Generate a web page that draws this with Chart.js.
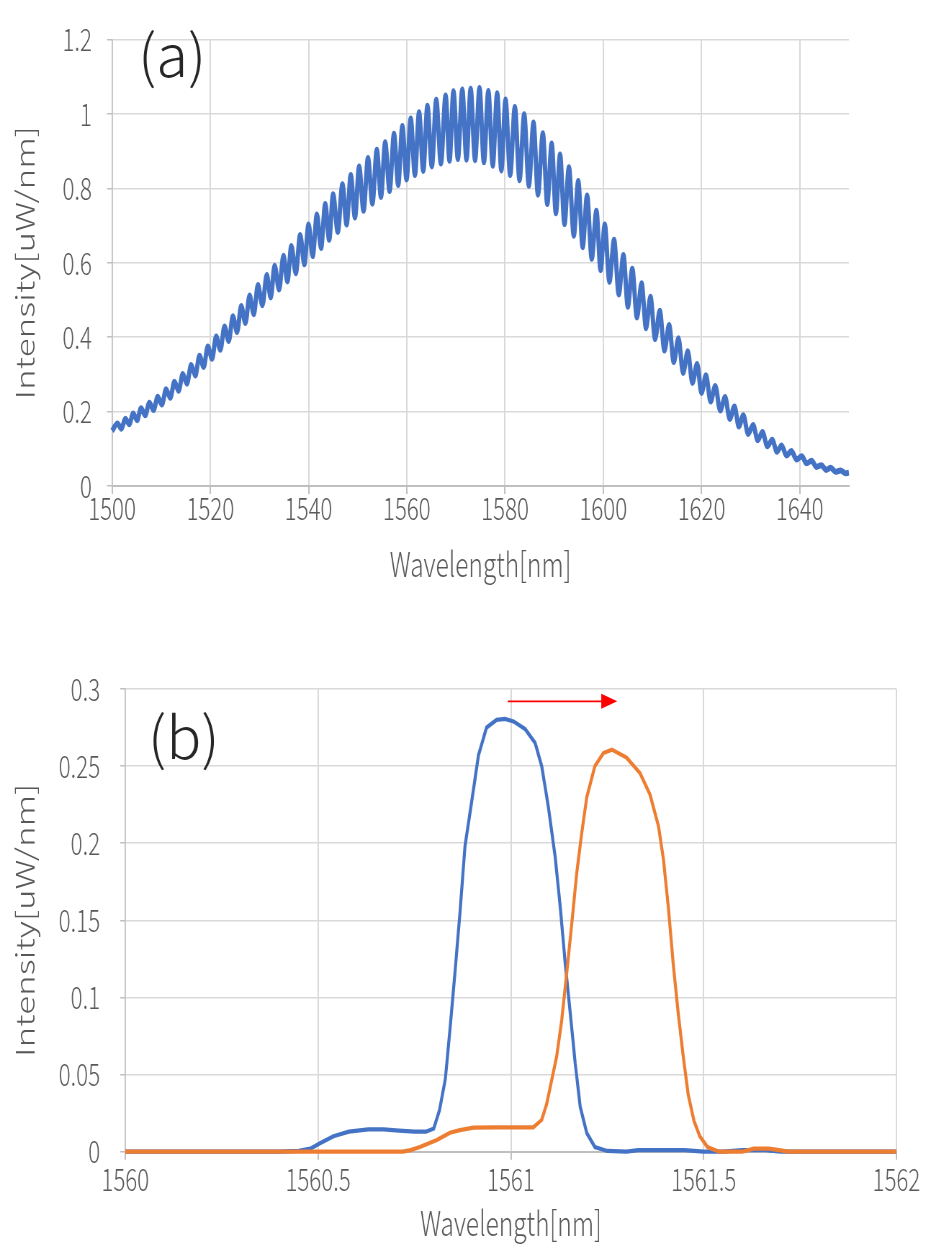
<!DOCTYPE html>
<html>
<head>
<meta charset="utf-8">
<script src="https://cdn.jsdelivr.net/npm/chart.js@4.4.1/dist/chart.umd.min.js"></script>
<style>
  html, body { margin: 0; padding: 0; background: #fff; }
  #page { position: relative; width: 928px; height: 1248px; overflow: hidden; }
  /* canvases are drawn wide, then narrowed so the lettering comes out condensed */
  canvas { position: absolute; left: 0; transform: scaleX(0.72); transform-origin: 0 0; }
  #chartA { top: 0; }
  #chartB { top: 628px; }
</style>
</head>
<body>
<div id="page">
  <canvas id="chartA" width="1289" height="600"></canvas>
  <canvas id="chartB" width="1289" height="620"></canvas>
</div>
<script>
// (a) broadband spectrum with fringes: wavelength [nm] / intensity [uW/nm], peaks and valleys
const wavelengthA = [
  1500.0, 1501.1, 1501.9, 1502.7, 1503.5, 1504.3, 1505.1, 1505.9, 1506.75, 1507.6,
  1508.45, 1509.3, 1510.15, 1511.0, 1511.85, 1512.7, 1513.55, 1514.4, 1515.25, 1516.1,
  1516.95, 1517.8, 1518.65, 1519.5, 1520.35, 1521.2, 1522.05, 1522.9, 1523.75, 1524.6,
  1525.45, 1526.3, 1527.15, 1528.0, 1528.85, 1529.7, 1530.6, 1531.5, 1532.3, 1533.1,
  1534.0, 1534.9, 1535.7, 1536.5, 1537.4, 1538.3, 1539.15, 1540.0, 1540.85, 1541.7,
  1542.55, 1543.4, 1544.2, 1545.0, 1545.95, 1546.9, 1547.75, 1548.6, 1549.45, 1550.3,
  1551.2, 1552.1, 1553.0, 1553.9, 1554.75, 1555.6, 1556.5, 1557.4, 1558.25, 1559.1,
  1559.95, 1560.8, 1561.65, 1562.5, 1563.35, 1564.2, 1565.1, 1566.0, 1566.95, 1567.9,
  1568.7, 1569.5, 1570.4, 1571.3, 1572.15, 1573.0, 1573.9, 1574.8, 1575.7, 1576.6,
  1577.5, 1578.4, 1579.25, 1580.1, 1581.05, 1582.0, 1582.95, 1583.9, 1584.85, 1585.8,
  1586.7, 1587.7, 1588.6, 1589.5, 1590.35, 1591.2, 1592.1, 1593.0, 1594.0, 1594.9,
  1595.8, 1596.7, 1597.65, 1598.6, 1599.45, 1600.3, 1601.25, 1602.2, 1603.15, 1604.1,
  1605.0, 1605.9, 1606.85, 1607.8, 1608.7, 1609.6, 1610.55, 1611.5, 1612.45, 1613.4,
  1614.35, 1615.3, 1616.25, 1617.2, 1618.15, 1619.1, 1620.0, 1620.9, 1621.85, 1622.8,
  1623.8, 1624.8, 1625.75, 1626.7, 1627.6, 1628.5, 1629.5, 1630.5, 1631.45, 1632.4,
  1633.4, 1634.4, 1635.35, 1636.3, 1637.3, 1638.3, 1639.35, 1640.4, 1641.4, 1642.4,
  1643.4, 1644.4, 1645.35, 1646.3, 1647.3, 1648.3, 1649.3, 1650.0
];
const intensityA = [
  0.148, 0.168, 0.154, 0.181, 0.166, 0.195, 0.177, 0.209, 0.190, 0.224,
  0.204, 0.240, 0.219, 0.260, 0.237, 0.280, 0.256, 0.301, 0.275, 0.325,
  0.297, 0.350, 0.320, 0.375, 0.342, 0.402, 0.366, 0.429, 0.390, 0.456,
  0.414, 0.484, 0.438, 0.512, 0.462, 0.540, 0.486, 0.567, 0.507, 0.592,
  0.528, 0.619, 0.550, 0.645, 0.572, 0.675, 0.596, 0.703, 0.618, 0.730,
  0.640, 0.758, 0.662, 0.784, 0.683, 0.811, 0.703, 0.836, 0.722, 0.859,
  0.740, 0.882, 0.759, 0.904, 0.777, 0.924, 0.793, 0.947, 0.809, 0.968,
  0.824, 0.988, 0.836, 1.005, 0.847, 1.022, 0.859, 1.038, 0.867, 1.050,
  0.874, 1.061, 0.879, 1.066, 0.877, 1.068, 0.876, 1.070, 0.870, 1.062,
  0.861, 1.056, 0.848, 1.039, 0.836, 1.019, 0.822, 0.999, 0.807, 0.977,
  0.783, 0.948, 0.758, 0.921, 0.733, 0.891, 0.704, 0.857, 0.673, 0.820,
  0.642, 0.781, 0.611, 0.740, 0.580, 0.703, 0.549, 0.662, 0.515, 0.621,
  0.482, 0.584, 0.453, 0.545, 0.424, 0.509, 0.395, 0.471, 0.364, 0.433,
  0.333, 0.397, 0.304, 0.362, 0.277, 0.328, 0.250, 0.298, 0.227, 0.269,
  0.203, 0.239, 0.180, 0.214, 0.160, 0.190, 0.140, 0.164, 0.123, 0.145,
  0.107, 0.124, 0.092, 0.109, 0.082, 0.094, 0.071, 0.080, 0.061, 0.068,
  0.051, 0.056, 0.043, 0.049, 0.038, 0.042, 0.034, 0.036
];

// (b) single peak before (blue) and after (orange) the shift
const wavelengthB1 = [
  1560.0, 1560.4, 1560.45, 1560.48, 1560.505, 1560.54, 1560.58, 1560.63, 1560.67, 1560.71,
  1560.75, 1560.78, 1560.8, 1560.815, 1560.83, 1560.842, 1560.855, 1560.868, 1560.881, 1560.899,
  1560.916, 1560.937, 1560.963, 1560.985, 1561.007, 1561.037, 1561.063, 1561.08, 1561.097, 1561.115,
  1561.128, 1561.141, 1561.154, 1561.167, 1561.18, 1561.197, 1561.218, 1561.25, 1561.3, 1561.33,
  1561.45, 1561.5, 1561.55, 1561.6, 1561.66, 1561.7, 1562.0
];
const intensityB1 = [
  0, 0, 0.0005, 0.002, 0.0055, 0.010, 0.013, 0.0145, 0.0145, 0.0137,
  0.013, 0.013, 0.015, 0.027, 0.047, 0.079, 0.116, 0.155, 0.198, 0.228,
  0.257, 0.275, 0.280, 0.2806, 0.279, 0.274, 0.265, 0.250, 0.224, 0.191,
  0.159, 0.122, 0.090, 0.057, 0.029, 0.012, 0.003, 0.0005, 0, 0.001,
  0.001, 0, 0, 0.001, 0.001, 0, 0
];
const wavelengthB2 = [
  1560.0, 1560.72, 1560.74, 1560.764, 1560.808, 1560.842, 1560.868, 1560.903, 1560.96, 1561.01,
  1561.058, 1561.08, 1561.093, 1561.106, 1561.119, 1561.132, 1561.145, 1561.158, 1561.171, 1561.184,
  1561.197, 1561.218, 1561.24, 1561.262, 1561.3, 1561.335, 1561.361, 1561.383, 1561.396, 1561.409,
  1561.421, 1561.434, 1561.447, 1561.46, 1561.475, 1561.49, 1561.51, 1561.54, 1561.6, 1561.63,
  1561.67, 1561.72, 1562.0
];
const intensityB2 = [
  0, 0, 0.001, 0.003, 0.0076, 0.0123, 0.014, 0.0156, 0.0158, 0.0158,
  0.0158, 0.0206, 0.031, 0.0465, 0.062, 0.0855, 0.116, 0.148, 0.181, 0.207,
  0.230, 0.250, 0.2585, 0.2607, 0.2555, 0.2455, 0.2315, 0.211, 0.189, 0.157,
  0.122, 0.090, 0.062, 0.037, 0.020, 0.010, 0.003, 0, 0, 0.002,
  0.002, 0, 0
];

// arrow marking the shift, in axis units
const shiftFrom = 1560.992;
const shiftTo = 1561.276;
const shiftLevel = 0.292;

const SQUEEZE = 0.72;
const FONT = "'Noto Sans CJK JP', 'Noto Sans', sans-serif";
const INK = '#595959';
const GRID = '#d9d9d9';
const AXIS = '#bfbfbf';
const BLUE = '#4472C4';
const ORANGE = '#ED7D31';

const zip = (xs, ys) => xs.map((x, i) => ({ x: x, y: ys[i] }));
// plain numbers, no grouping and no padded decimals
const plain = v => String(Number(v.toFixed(4)));

// big "(a)" / "(b)" tag, drawn unsqueezed
const panelLabel = {
  id: 'panelLabel',
  afterDraw(chart, args, opts) {
    const ctx = chart.ctx;
    ctx.save();
    ctx.translate(opts.x / SQUEEZE, opts.y);
    ctx.scale(1 / SQUEEZE, 1);
    ctx.font = '300 ' + opts.size + 'px ' + FONT;
    ctx.fillStyle = '#262626';
    ctx.textAlign = 'left';
    ctx.textBaseline = 'middle';
    ctx.fillText(opts.text, 0, 0);
    ctx.restore();
  }
};

// red arrow over the two peaks
const shiftArrow = {
  id: 'shiftArrow',
  afterDatasetsDraw(chart) {
    const { ctx, scales } = chart;
    const x0 = scales.x.getPixelForValue(shiftFrom);
    const x1 = scales.x.getPixelForValue(shiftTo);
    const y = scales.y.getPixelForValue(shiftLevel);
    const head = 16 / SQUEEZE;
    ctx.save();
    ctx.strokeStyle = '#ff0000';
    ctx.fillStyle = '#ff0000';
    ctx.lineWidth = 1.6;
    ctx.beginPath();
    ctx.moveTo(x0, y);
    ctx.lineTo(x1 - head, y);
    ctx.stroke();
    ctx.beginPath();
    ctx.moveTo(x1, y);
    ctx.lineTo(x1 - head, y - 7.5);
    ctx.lineTo(x1 - head, y + 7.5);
    ctx.closePath();
    ctx.fill();
    ctx.restore();
  }
};

function axisX(min, max, step, height, tickPad, titlePad, bounds) {
  return {
    type: 'linear',
    min: min,
    max: max,
    afterFit: s => { s.height = height; },
    ticks: {
      stepSize: step,
      includeBounds: bounds,
      autoSkip: false,
      maxRotation: 0,
      color: INK,
      padding: tickPad,
      font: { family: FONT, size: 31, weight: '300' },
      callback: plain
    },
    grid: { color: GRID, lineWidth: 2, tickLength: 8, tickColor: AXIS },
    border: { color: AXIS, width: 2 },
    title: {
      display: true,
      text: 'Wavelength[nm]',
      color: INK,
      font: { family: FONT, size: 34, weight: '300' },
      padding: { top: 0, bottom: titlePad }
    }
  };
}

function axisY(max, step, width, tickPad) {
  return {
    min: 0,
    max: max,
    afterFit: s => { s.width = width; },
    ticks: {
      stepSize: step,
      color: INK,
      padding: tickPad,
      font: { family: FONT, size: 31, weight: '300' },
      callback: plain
    },
    grid: { color: GRID, lineWidth: 1.5, tickLength: 7, tickColor: AXIS },
    border: { color: AXIS, width: 1.5 },
    title: {
      display: true,
      text: 'Intensity[uW/nm]',
      color: INK,
      font: { family: FONT, size: 35, weight: '300' },
      padding: { top: 14, bottom: 0 }
    }
  };
}

const common = {
  responsive: false,
  animation: false,
  events: [],
  plugins: { legend: { display: false }, tooltip: { enabled: false } },
  elements: { point: { radius: 0 } }
};

new Chart(document.getElementById('chartA'), {
  type: 'line',
  data: {
    datasets: [{
      data: zip(wavelengthA, intensityA),
      borderColor: BLUE,
      borderWidth: 6,
      cubicInterpolationMode: 'monotone',
      clip: 6
    }]
  },
  options: Object.assign({}, common, {
    layout: { padding: { top: 23, right: 110, left: 0, bottom: 0 } },
    scales: {
      x: axisX(1500, 1650, 20, 114, -4, 16, false),
      y: axisY(1.2, 0.2, 155.6, 21)
    },
    plugins: Object.assign({}, common.plugins, {
      panelLabel: { text: '(a)', x: 138, y: 55, size: 58 }
    })
  }),
  plugins: [panelLabel]
});

new Chart(document.getElementById('chartB'), {
  type: 'line',
  data: {
    datasets: [
      { data: zip(wavelengthB1, intensityB1), borderColor: BLUE, borderWidth: 4.2, tension: 0, order: 2, clip: 6 },
      { data: zip(wavelengthB2, intensityB2), borderColor: ORANGE, borderWidth: 4.2, tension: 0, order: 1, clip: 6 }
    ]
  },
  options: Object.assign({}, common, {
    layout: { padding: { top: 61, right: 44, left: 0, bottom: 0 } },
    scales: {
      x: axisX(1560, 1562, 0.5, 96.3, 1, 5, true),
      y: axisY(0.3, 0.05, 174, 28)
    },
    plugins: Object.assign({}, common.plugins, {
      panelLabel: { text: '(b)', x: 148, y: 109, size: 58 }
    })
  }),
  plugins: [panelLabel, shiftArrow]
});
</script>
</body>
</html>
